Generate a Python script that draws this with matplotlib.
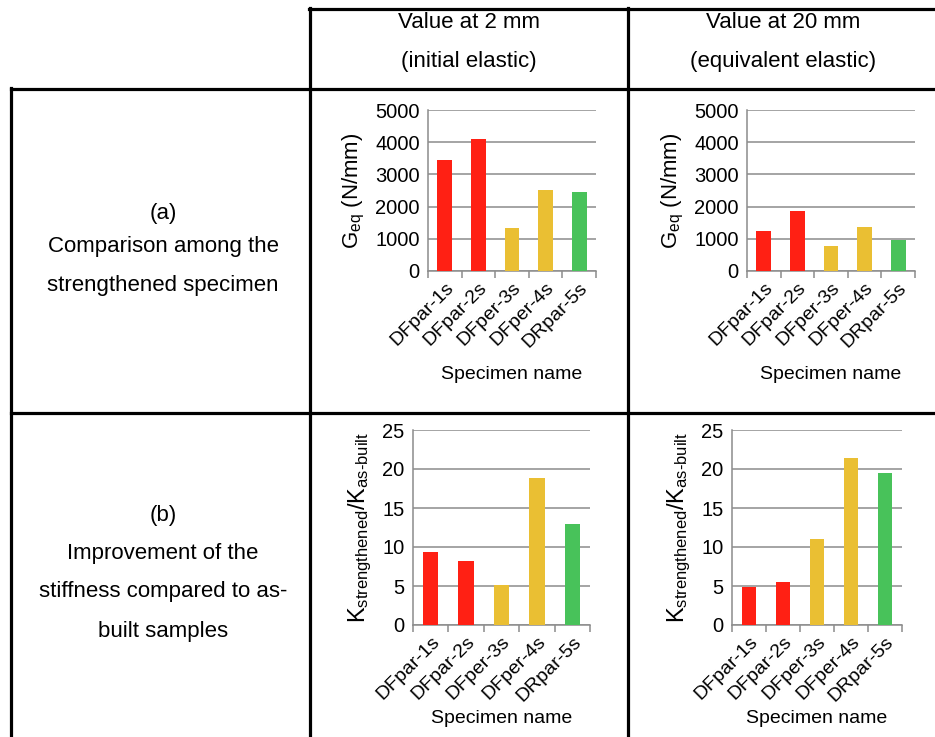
import matplotlib
matplotlib.use('Agg')
import matplotlib.pyplot as plt
from matplotlib.lines import Line2D
import numpy as np

plt.rcParams['font.family'] = ['Liberation Sans', 'DejaVu Sans']
plt.rcParams['mathtext.fontset'] = 'custom'
plt.rcParams['mathtext.rm'] = 'Liberation Sans'
plt.rcParams['mathtext.it'] = 'Liberation Sans'

specimens = ['DFpar-1s', 'DFpar-2s', 'DFper-3s', 'DFper-4s', 'DRpar-5s']
geq_2mm = [3450, 4100, 1350, 2520, 2440]
geq_20mm = [1250, 1850, 780, 1380, 950]
kratio_2mm = [9.3, 8.2, 5.1, 18.8, 13.0]
kratio_20mm = [4.9, 5.5, 11.0, 21.4, 19.5]
bar_colors = ['#FF2014', '#FF2014', '#EABF33', '#EABF33', '#48C25A']

W, H = 935, 737
fig = plt.figure(figsize=(W / 100, H / 100), dpi=100)


def px_rect(x0, y_top, x1, y_bot):
    return [x0 / W, 1 - y_bot / H, (x1 - x0) / W, (y_bot - y_top) / H]


def hline(y, x0, x1):
    fig.add_artist(Line2D([x0 / W, x1 / W], [1 - y / H, 1 - y / H],
                          transform=fig.transFigure, color='black', lw=2.3))


def vline(x, y0, y1):
    fig.add_artist(Line2D([x / W, x / W], [1 - y0 / H, 1 - y1 / H],
                          transform=fig.transFigure, color='black', lw=2.3))


# table grid
hline(9, 309, W)
hline(89, 11, W)
hline(413, 11, W)
vline(310, 8, H)
vline(628, 8, H)
vline(11, 88, H)


def ftext(x, y, s, **kw):
    fig.text(x / W, 1 - y / H, s, ha='center', va='center', fontsize=16, **kw)


ftext(469, 22, 'Value at 2 mm')
ftext(469, 62, '(initial elastic)')
ftext(783, 22, 'Value at 20 mm')
ftext(783, 62, '(equivalent elastic)')

ftext(163, 213, '(a)')
ftext(163, 247, 'Comparison among the')
ftext(163, 285, 'strengthened specimen')
ftext(163, 516, '(b)')
ftext(163, 553, 'Improvement of the')
ftext(163, 592, 'stiffness compared to as-')
ftext(163, 631, 'built samples')


def bar_panel(rect, values, ymax, step, ylabel, ylabel_size, xpad):
    ax = fig.add_axes(rect)
    x = np.arange(len(specimens))
    ax.bar(x, values, width=0.44, color=bar_colors, zorder=3)
    ax.set_xlim(-0.5, len(specimens) - 0.5)
    ax.set_ylim(0, ymax)
    ax.set_yticks(np.arange(0, ymax + step / 2, step))
    ax.yaxis.grid(True, color='#8c8c8c', lw=1.1, zorder=0)
    ax.tick_params(axis='y', length=0, labelsize=14.5, pad=6)
    ax.set_xticks(np.arange(-0.5, len(specimens)), [''] * (len(specimens) + 1))
    ax.tick_params(axis='x', which='major', length=5, color='#8c8c8c', width=1.1)
    ax.set_xticks(x, specimens, minor=True)
    ax.tick_params(axis='x', which='minor', length=0, labelsize=14, pad=6)
    for lab in ax.get_xticklabels(minor=True):
        lab.set_rotation(45)
        lab.set_ha('right')
        lab.set_rotation_mode('anchor')
    for s in ['top', 'right']:
        ax.spines[s].set_visible(False)
    for s in ['left', 'bottom']:
        ax.spines[s].set_color('#8c8c8c')
        ax.spines[s].set_linewidth(1.1)
    ax.set_ylabel(ylabel, fontsize=ylabel_size, labelpad=6)
    ax.set_xlabel('Specimen name', fontsize=14, labelpad=xpad)
    return ax


g_label = r'G$_{\mathrm{eq}}$ (N/mm)'
k_label = r'K$_{\mathrm{strengthened}}$/K$_{\mathrm{as\text{-}built}}$'

bar_panel(px_rect(428, 110, 596, 271), geq_2mm, 5000, 1000, g_label, 16, 11)
bar_panel(px_rect(747, 110, 915, 271), geq_20mm, 5000, 1000, g_label, 16, 11)
bar_panel(px_rect(413, 430, 590, 625), kratio_2mm, 25, 5, k_label, 17, 4)
bar_panel(px_rect(732, 430, 902, 625), kratio_20mm, 25, 5, k_label, 17, 4)

fig.savefig('out.png', dpi=100)
